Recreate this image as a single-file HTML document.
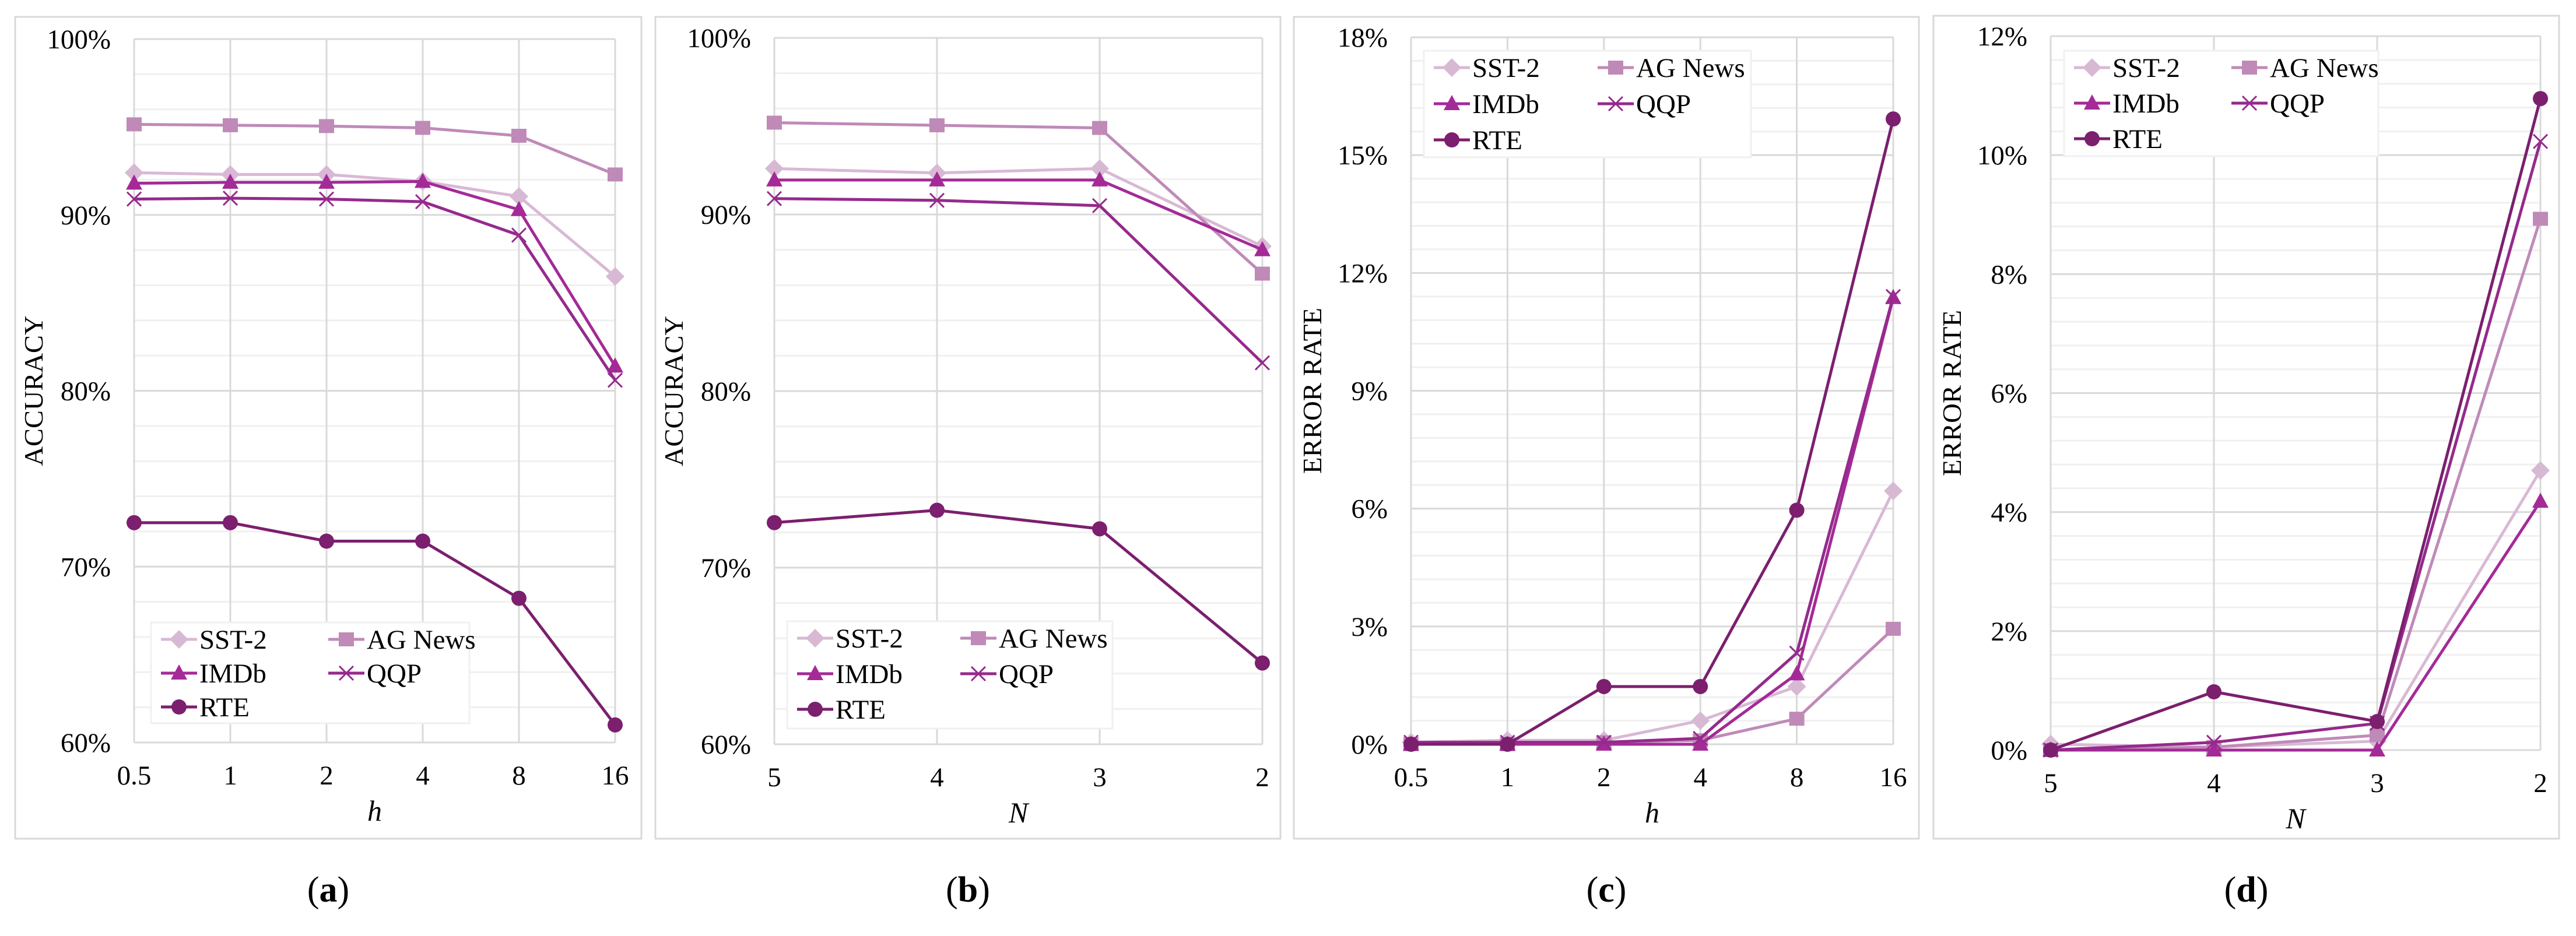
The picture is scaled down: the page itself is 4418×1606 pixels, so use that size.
<!DOCTYPE html>
<html><head><meta charset="utf-8">
<style>
html,body{margin:0;padding:0;background:#fff;}
svg, svg text{font-family:"Liberation Serif","Times New Roman",serif;}
</style></head>
<body>
<svg id="fig" xmlns="http://www.w3.org/2000/svg" width="4418" height="1601" viewBox="0 0 4418 1601" font-family="'Liberation Serif', 'Times New Roman', serif"></svg>
<script>
// ---- data ----
const seriesNames = ["SST-2","AG News","IMDb","QQP","RTE"];
const catsA = ["0.5","1","2","4","8","16"];
const sstA  = [92.4,92.3,92.3,91.9,91.05,86.5];
const agA   = [95.15,95.1,95.05,94.95,94.5,92.3];
const imdbA = [91.8,91.85,91.85,91.9,90.3,81.4];
const qqpA  = [90.9,90.95,90.9,90.75,88.85,80.6];
const rteA  = [72.5,72.5,71.45,71.45,68.2,61.0];
const ticksA = ["60%","70%","80%","90%","100%"];

const catsB = ["5","4","3","2"];
const sstB  = [92.6,92.35,92.6,88.2];
const agB   = [95.2,95.05,94.9,86.65];
const imdbB = [91.95,91.95,91.95,88.0];
const qqpB  = [90.9,90.8,90.5,81.6];
const rteB  = [72.55,73.25,72.2,64.6];
const ticksB = ["60%","70%","80%","90%","100%"];

const catsC = ["0.5","1","2","4","8","16"];
const sstC  = [0.05,0.1,0.1,0.6,1.47,6.45];
const agC   = [0,0,0.05,0.1,0.65,2.94];
const imdbC = [0,0,0,0,1.79,11.37];
const qqpC  = [0.05,0.05,0.05,0.15,2.32,11.4];
const rteC  = [0,0,1.47,1.47,5.96,15.92];
const ticksC = ["0%","3%","6%","9%","12%","15%","18%"];

const catsD = ["5","4","3","2"];
const sstD  = [0.1,0.05,0.15,4.7];
const agD   = [0,0.05,0.25,8.93];
const imdbD = [0,0,0,4.18];
const qqpD  = [0,0.13,0.45,10.23];
const rteD  = [0,0.98,0.48,10.95];
const ticksD = ["0%","2%","4%","6%","8%","10%","12%"];

const colors = ["#d8b9d4","#bf8ab8","#a42a98","#952a8c","#7b1f6e"];
const markers = ["diamond","square","triangle","x","circle"];
const NS = "http://www.w3.org/2000/svg";
const svg = document.getElementById('fig');
const FONT = "'Liberation Serif', 'Times New Roman', serif";

function mk(tag, attrs, parent){
  const e = document.createElementNS(NS, tag);
  for (const k in attrs) e.setAttribute(k, attrs[k]);
  if (tag==='text') e.setAttribute('font-family', FONT);
  (parent||svg).appendChild(e);
  return e;
}

function marker(g, type, x, y, c){
  let m;
  if (type==="diamond") m = mk('polygon',{points:`${x},${y-16} ${x+16},${y} ${x},${y+16} ${x-16},${y}`,fill:c},g);
  else if (type==="square") m = mk('rect',{x:x-13,y:y-12,width:26,height:24,fill:c},g);
  else if (type==="triangle") m = mk('polygon',{points:`${x},${y-15} ${x+14},${y+11} ${x-14},${y+11}`,fill:c},g);
  else if (type==="circle") m = mk('ellipse',{cx:x,cy:y,rx:13,ry:13,fill:c},g);
  else { m = mk('path',{d:`M${x-12},${y-12}L${x+12},${y+12}M${x-12},${y+12}L${x+12},${y-12}`,stroke:c,'stroke-width':3,fill:'none'},g); }
  return m;
}

function panel(cfg){
  const g = mk('g',{'font-family':FONT});
  
  
  const fr = mk('rect',{x:cfg.fx0,y:cfg.fy0,width:cfg.fx1-cfg.fx0,height:cfg.fy1-cfg.fy0,fill:'#fff',stroke:'#d9d9d9','stroke-width':3},g);
  
  
  const {x0,x1,y0,y1,ymin,ymax,major,minorN} = cfg;
  const n = cfg.cats.length;
  const xs = i => x0 + (x1-x0)*i/(n-1);
  const ys = v => y1 - (y1-y0)*(v-ymin)/(ymax-ymin);
  const step = major/minorN;
  for (let v=ymin; v<=ymax+1e-9; v+=step){
    const isMaj = Math.abs((v-ymin)/major - Math.round((v-ymin)/major))<1e-6;
    if (isMaj) continue;
    const l = mk('line',{x1:x0,x2:x1,y1:ys(v),y2:ys(v),stroke:'#f0f0f0','stroke-width':3},g);
    
    
  }
  for (let i=0;i<n;i++){
    const l = mk('line',{x1:xs(i),x2:xs(i),y1:y0,y2:y1,stroke:'#d9d9d9','stroke-width':3},g);
    
    
  }
  cfg.ticks.forEach((t,k)=>{
    const v = ymin + k*major;
    const l = mk('line',{x1:x0,x2:x1,y1:ys(v),y2:ys(v),stroke:'#d9d9d9','stroke-width':3},g);
    
    
    const tx = mk('text',{x:x0-40,y:ys(v)+16,'text-anchor':'end','font-size':47,fill:'#000'},g);
    tx.textContent = t;
    
    
  });
  cfg.cats.forEach((c,i)=>{
    const tx = mk('text',{x:xs(i),y:y1+72,'text-anchor':'middle','font-size':47,fill:'#000'},g);
    tx.textContent = c;
    
    
  });
  const xt = mk('text',{x:(x0+x1)/2,y:y1+134,'text-anchor':'middle','font-size':50,'font-style':'italic',fill:'#000'},g);
  xt.textContent = cfg.xtitle;
  
  
  const ycx = cfg.fx0+47, ycy = (y0+y1)/2;
  const yt = mk('text',{x:ycx,y:ycy,'text-anchor':'middle','font-size':46,fill:'#000',transform:`rotate(-90 ${ycx} ${ycy})`,'textLength':cfg.ytitleLen,'lengthAdjust':'spacingAndGlyphs'},g);
  yt.textContent = cfg.ytitle;
  
  
  cfg.series.forEach((vals,s)=>{
    const sg = mk('g',{},g);
    
    
    const pts = vals.map((v,i)=>xs(i)+','+ys(v)).join(' ');
    const pl = mk('polyline',{points:pts,fill:'none',stroke:colors[s],'stroke-width':5,'stroke-linejoin':'round'},sg);
    
    
    vals.forEach((v,i)=>{
      const m = marker(sg, markers[s], xs(i), ys(v), colors[s]);
      
      
    });
  });
  const L = cfg.legend;
  const lg = mk('g',{},g);
  
  
  const lb = mk('rect',{x:L.x,y:L.y,width:L.w,height:L.h,fill:'#fff',stroke:'#f0f0f0','stroke-width':3},lg);
  
  
  seriesNames.forEach((nm,s)=>{
    const col = s%2, row = Math.floor(s/2);
    const lx = L.x + 17 + col*L.colW;
    const ly = L.y + 29 + row*L.rowH;
    const eg = mk('g',{},lg);
    
    
    mk('line',{x1:lx,x2:lx+62,y1:ly,y2:ly,stroke:colors[s],'stroke-width':5},eg);
    marker(eg, markers[s], lx+31, ly, colors[s]);
    const t = mk('text',{x:lx+66,y:ly+16,'font-size':47,fill:'#000'},eg);
    t.textContent = nm;
  });
  const cap = mk('text',{x:(cfg.fx0+cfg.fx1)/2,y:1547,'text-anchor':'middle','font-size':62,fill:'#000'},g);
  const t1 = mk('tspan',{},cap); t1.textContent='(';
  const t2 = mk('tspan',{'font-weight':'bold'},cap); t2.textContent=cfg.caption;
  const t3 = mk('tspan',{},cap); t3.textContent=')';
  
  
}

panel({name:'panel-a-accuracy-h',fx0:26,fx1:1100,fy0:29,fy1:1439,x0:230,x1:1055,y0:67,y1:1274,ymin:60,ymax:100,major:10,minorN:5,
  cats:catsA,ticks:ticksA,series:[sstA,agA,imdbA,qqpA,rteA],xtitle:'h',ytitle:'ACCURACY',ytitleLen:258,
  legend:{x:259,y:1068,w:546,h:173,colW:287,rowH:58},caption:'a'});
panel({name:'panel-b-accuracy-n',fx0:1124,fx1:2196,fy0:29,fy1:1439,x0:1328,x1:2165,y0:65,y1:1277,ymin:60,ymax:100,major:10,minorN:5,
  cats:catsB,ticks:ticksB,series:[sstB,agB,imdbB,qqpB,rteB],xtitle:'N',ytitle:'ACCURACY',ytitleLen:258,
  legend:{x:1350,y:1066,w:558,h:184,colW:280,rowH:61},caption:'b'});
panel({name:'panel-c-error-h',fx0:2219,fx1:3291,fy0:29,fy1:1439,x0:2420,x1:3247,y0:64,y1:1277,ymin:0,ymax:18,major:3,minorN:5,
  cats:catsC,ticks:ticksC,series:[sstC,agC,imdbC,qqpC,rteC],xtitle:'h',ytitle:'ERROR RATE',ytitleLen:285,
  legend:{x:2442,y:87,w:561,h:183,colW:281,rowH:62},caption:'c'});
panel({name:'panel-d-error-n',fx0:3316,fx1:4389,fy0:27,fy1:1439,x0:3517,x1:4357,y0:62,y1:1287,ymin:0,ymax:12,major:2,minorN:5,
  cats:catsD,ticks:ticksD,series:[sstD,agD,imdbD,qqpD,rteD],xtitle:'N',ytitle:'ERROR RATE',ytitleLen:285,
  legend:{x:3540,y:87,w:539,h:181,colW:270,rowH:61},caption:'d'});
</script>
</body></html>
